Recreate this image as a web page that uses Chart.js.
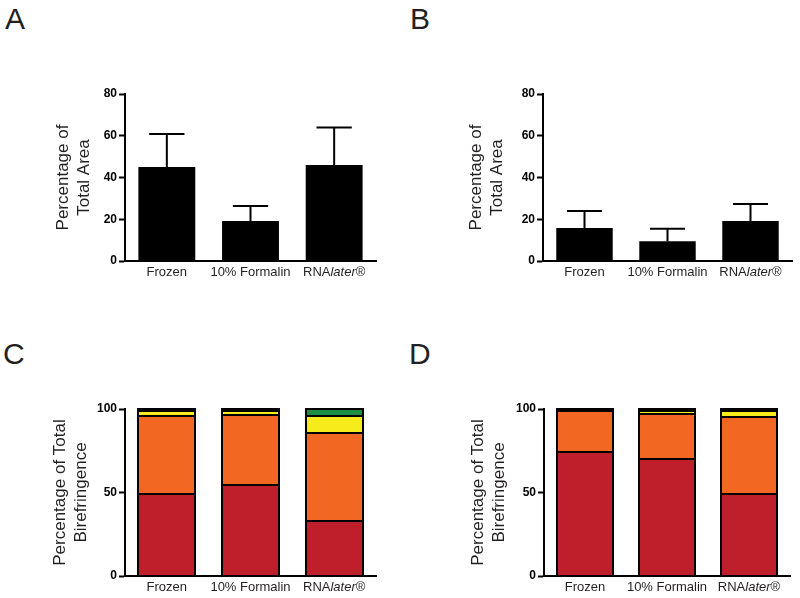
<!DOCTYPE html>
<html><head><meta charset="utf-8">
<script src="https://cdn.jsdelivr.net/npm/chart.js@4/dist/chart.umd.min.js"></script>
<style>
html,body{margin:0;padding:0;background:#fff;width:800px;height:598px;overflow:hidden;position:relative}
canvas.panel{position:absolute}
.letter{position:absolute;font:30px 'Liberation Sans',Arial,sans-serif;line-height:30px;color:#231f20}
</style></head><body>
<div class="letter" style="left:5px;top:4px">A</div>
<div class="letter" style="left:410px;top:4px">B</div>
<div class="letter" style="left:3px;top:339px">C</div>
<div class="letter" style="left:409px;top:339px">D</div>
<canvas id="cA" class="panel" width="400" height="300" style="left:0;top:0"></canvas>
<canvas id="cB" class="panel" width="400" height="300" style="left:400px;top:0"></canvas>
<canvas id="cC" class="panel" width="400" height="299" style="left:0;top:299px"></canvas>
<canvas id="cD" class="panel" width="400" height="299" style="left:400px;top:299px"></canvas>
<script>
// ---- data ----
const categories = ['Frozen', '10% Formalin', 'RNAlater®'];
const areaTicks = [0, 20, 40, 60, 80];
const birefTicks = [0, 50, 100];
const areaTitle = ['Percentage of', 'Total Area'];
const birefTitle = ['Percentage of Total', 'Birefringence'];

const meanA = [45, 19.2, 46];
const errA = [15.8, 7.1, 18];
const meanB = [15.8, 9.5, 19.2];
const errB = [8.1, 5.9, 8.1];

const redC = [49.3, 54.7, 33];
const orangeC = [46.5, 41.8, 52.8];
const yellowC = [3.0, 2.3, 10.0];
const greenC = [1.2, 1.2, 4.2];

const redD = [74.3, 70, 49];
const orangeD = [24.7, 27, 46.2];
const yellowD = [0.6, 2.0, 3.5];
const greenD = [0.4, 1.0, 1.3];

// ---- styles ----
const FONT = "'Liberation Sans', Arial, sans-serif";
const INK = '#231f20';
const COLORS = {red: '#BF1F2A', orange: '#F26722', yellow: '#F6EC1C', green: '#1A8F45'};

const errorBarPlugin = {
  id: 'errorBars',
  afterDatasetsDraw(chart, args, opts) {
    if (!opts || !opts.values) return;
    const meta = chart.getDatasetMeta(0);
    const ys = chart.scales.y;
    const ctx = chart.ctx;
    const vals = chart.data.datasets[0].data;
    ctx.save();
    ctx.strokeStyle = '#000';
    ctx.lineWidth = 2;
    meta.data.forEach((el, i) => {
      const top = ys.getPixelForValue(vals[i] + opts.values[i]);
      const cap = el.width * 0.62;
      ctx.beginPath();
      ctx.moveTo(el.x, el.y);
      ctx.lineTo(el.x, top);
      ctx.moveTo(el.x - cap / 2, top);
      ctx.lineTo(el.x + cap / 2, top);
      ctx.stroke();
    });
    ctx.restore();
  }
};

// outlines each stacked segment with a crisp black line
const outlinePlugin = {
  id: 'segOutline',
  afterDatasetsDraw(chart, args, opts) {
    if (!opts || !opts.enabled) return;
    const ctx = chart.ctx;
    ctx.save();
    ctx.strokeStyle = '#000';
    ctx.lineWidth = opts.width;
    chart.data.datasets.forEach((ds, di) => {
      chart.getDatasetMeta(di).data.forEach((el) => {
        const {x, y, base, width} = el.getProps(['x', 'y', 'base', 'width'], true);
        const l = Math.round(x - width / 2), r = Math.round(x + width / 2);
        const t = Math.round(Math.min(y, base)), b = Math.round(Math.max(y, base));
        ctx.strokeRect(l, t, r - l, b - t);
      });
    });
    ctx.restore();
  }
};

function splitLabel(lab) {
  const m = lab.match(/^(RNA)(later)(.*)$/);
  if (m) return [[m[1], false], [m[2], true], [m[3], false]];
  return [[lab, false]];
}

const xLabelPlugin = {
  id: 'xLabels',
  afterDraw(chart) {
    const xs = chart.scales.x;
    const ctx = chart.ctx;
    const y = chart.chartArea.bottom + 11;
    ctx.save();
    ctx.fillStyle = INK;
    ctx.textBaseline = 'middle';
    ctx.textAlign = 'left';
    chart.data.labels.forEach((lab, i) => {
      const cx = xs.getPixelForValue(i);
      const parts = splitLabel(lab);
      let total = 0;
      const widths = parts.map(([t, it]) => {
        ctx.font = (it ? 'italic ' : '') + '13px ' + FONT;
        const w = ctx.measureText(t).width; total += w; return w;
      });
      let x = cx - total / 2;
      parts.forEach(([t, it], k) => {
        ctx.font = (it ? 'italic ' : '') + '13px ' + FONT;
        ctx.fillText(t, x, y);
        x += widths[k];
      });
    });
    ctx.restore();
  }
};

function makeChart(id, datasets, ticks, title, geom, errs, stacked) {
  return new Chart(document.getElementById(id), {
    type: 'bar',
    data: {labels: categories, datasets},
    plugins: [outlinePlugin, errorBarPlugin, xLabelPlugin],
    options: {
      responsive: false,
      animation: false,
      devicePixelRatio: 1,
      layout: {padding: {left: 0, top: geom.top, right: geom.right, bottom: 0}},
      plugins: {
        legend: {display: false},
        tooltip: {enabled: false},
        errorBars: {values: errs},
        segOutline: {enabled: stacked, width: 2}
      },
      datasets: {bar: {categoryPercentage: 0.8, barPercentage: 0.85}},
      scales: {
        x: {
          stacked: stacked,
          grid: {display: false},
          border: {display: true, color: '#000', width: 2},
          ticks: {display: false},
          afterFit: (s) => { s.height = geom.xh; }
        },
        y: {
          stacked: stacked,
          min: ticks[0],
          max: ticks[ticks.length - 1],
          ticks: {
            stepSize: ticks[1] - ticks[0],
            color: '#000',
            padding: 2,
            font: {family: FONT, size: 12, weight: 'bold'}
          },
          grid: {display: true, drawOnChartArea: false, drawTicks: true, tickLength: 6, tickWidth: 2, tickColor: '#000', color: '#000'},
          border: {display: true, color: '#000', width: 2},
          title: {
            display: true,
            text: title,
            color: INK,
            font: {family: FONT, size: 17, lineHeight: 1.25},
            padding: {top: geom.tpad, bottom: 0}
          },
          afterFit: (s) => { s.width = geom.yw; }
        }
      }
    }
  });
}

function blackBars(data) {
  return [{data, backgroundColor: '#000', borderWidth: 0}];
}
function stackBars(r, o, yl, g) {
  const mk = (data, c) => ({data, backgroundColor: c, borderWidth: 0});
  return [mk(r, COLORS.red), mk(o, COLORS.orange), mk(yl, COLORS.yellow), mk(g, COLORS.green)];
}

makeChart('cA', blackBars(meanA), areaTicks, areaTitle, {top: 94, right: 24, xh: 39, yw: 125, tpad: 52.4}, errA, false);
makeChart('cB', blackBars(meanB), areaTicks, areaTitle, {top: 94, right: 8, xh: 39, yw: 143, tpad: 65.9}, errB, false);
makeChart('cC', stackBars(redC, orangeC, yellowC, greenC), birefTicks, birefTitle, {top: 110, right: 24, xh: 22, yw: 125, tpad: 49.4}, null, true);
makeChart('cD', stackBars(redD, orangeD, yellowD, greenD), birefTicks, birefTitle, {top: 110, right: 10, xh: 22, yw: 144, tpad: 67.7}, null, true);
</script>
</body></html>
